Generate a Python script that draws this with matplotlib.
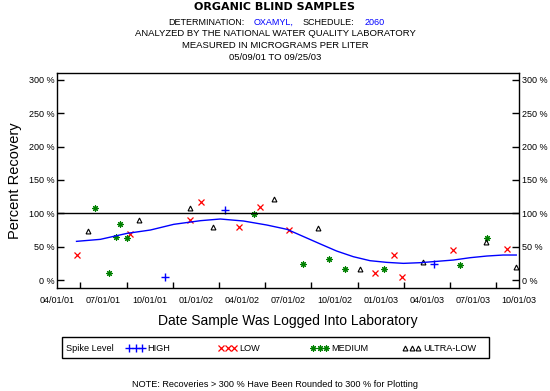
import numpy as np
import matplotlib.pyplot as plt
import matplotlib.dates as mdates
from matplotlib.lines import Line2D
from matplotlib.patches import Rectangle

plt.rcParams['font.family'] = ['Liberation Sans', 'DejaVu Sans']

# recoveries by spike level (date logged, percent recovery)
high_dates = ['2001-10-30', '2002-02-27', '2003-04-16']
high_pct = [5, 104.5, 23.5]

low_dates = ['2001-05-09', '2001-08-22', '2001-12-20', '2002-01-09', '2002-03-27',
             '2002-05-07', '2002-07-02', '2002-12-20', '2003-01-27', '2003-02-11',
             '2003-05-22', '2003-09-07']
low_pct = [37, 68.5, 89.5, 116.5, 80, 109, 74.5, 11, 37, 5, 44.5, 47]

medium_dates = ['2001-06-14', '2001-07-12', '2001-07-26', '2001-08-03', '2001-08-16',
                '2002-04-24', '2002-07-30', '2002-09-19', '2002-10-22', '2003-01-07',
                '2003-06-05', '2003-07-29']
medium_pct = [107.5, 10, 65, 83.5, 63, 99.5, 24.5, 31, 17, 17, 23, 63]

ultra_dates = ['2001-05-31', '2001-09-10', '2001-12-20', '2002-02-02', '2002-06-04',
               '2002-08-29', '2002-11-20', '2003-03-25', '2003-07-27', '2003-09-24']
ultra_pct = [73.5, 90, 108.5, 79, 121.5, 77.5, 17, 27, 57.5, 19]

# smoothed trend line
curve_dates = ['2001-05-09', '2001-06-25', '2001-08-17', '2001-10-02', '2001-11-17',
               '2002-01-09', '2002-02-17', '2002-04-04', '2002-05-20', '2002-06-29',
               '2002-08-01', '2002-09-03', '2002-10-05', '2002-11-07', '2002-12-10',
               '2003-01-12', '2003-02-14', '2003-03-19', '2003-04-21', '2003-05-24',
               '2003-06-26', '2003-07-29', '2003-08-30', '2003-09-25']
curve_pct = [58, 61, 70, 75, 83.5, 89, 91.5, 88.5, 82.5, 76, 65, 54, 43.5, 35, 29,
             26.5, 25, 26, 28, 30, 33.5, 36, 37.5, 37.5]

tick_dates = ['2001-04-01', '2001-07-01', '2001-10-01', '2002-01-01', '2002-04-01',
              '2002-07-01', '2002-10-01', '2003-01-01', '2003-04-01', '2003-07-01',
              '2003-10-01']
tick_labels = ['04/01/01', '07/01/01', '10/01/01', '01/01/02', '04/01/02', '07/01/02',
               '10/01/02', '01/01/03', '04/01/03', '07/01/03', '10/01/03']

levels = ['HIGH', 'LOW', 'MEDIUM', 'ULTRA-LOW']
styles = [
    dict(marker='+', color='#0000ff', markersize=6, markeredgewidth=1.0),
    dict(marker='x', color='#ff0000', markersize=5, markeredgewidth=0.9),
    dict(marker=(8, 2, 0), color='#008000', markersize=4.5, markeredgewidth=0.8),
    dict(marker='^', color='black', markerfacecolor='none', markersize=3.5,
         markeredgewidth=0.8),
]


def to_num(d):
    return mdates.date2num(np.array(d, dtype='datetime64[D]'))


W, H = 550, 391
fig = plt.figure(figsize=(W / 100, H / 100), dpi=100)
ax = fig.add_axes([57.3 / W, 1 - 287.7 / H, 462 / W, 214.4 / H])

series = [(high_dates, high_pct), (low_dates, low_pct),
          (medium_dates, medium_pct), (ultra_dates, ultra_pct)]
for (d, p), st in zip(series, styles):
    ax.plot(to_num(d), p, linestyle='none', **st)

ax.plot(to_num(curve_dates), curve_pct, color='#0000ff', lw=1)
ax.axhline(100, color='black', lw=1)

ax.set_xlim(to_num('2001-04-01'), to_num('2003-10-01'))
ax.set_ylim(-11.5, 310)

ticks = to_num(tick_dates)
ax.set_xticks(ticks)
ax.set_xticklabels(tick_labels)
ax.set_xticks((ticks[:-1] + ticks[1:]) / 2, minor=True)
ax.tick_params(axis='x', which='major', length=0, pad=6, labelsize=6.5)
ax.tick_params(axis='x', which='minor', direction='in', length=4, width=1)

yt = np.arange(0, 301, 50)
ax.set_yticks(yt)
ax.set_yticklabels([f'{v} %' for v in yt])
ax.tick_params(axis='y', direction='in', length=5, width=1, pad=2, labelsize=6.5,
               right=True, labelright=True)
for s in ax.spines.values():
    s.set_linewidth(1)

ax.set_xlabel('Date Sample Was Logged Into Laboratory', fontsize=10)
ax.xaxis.set_label_coords(0.5, (287.7 - 321) / 214.4)
ax.xaxis.label.set_va('center')
ax.set_ylabel('Percent Recovery', fontsize=10.5)
ax.yaxis.set_label_coords((15 - 57.3) / 462, 0.5)
ax.yaxis.label.set_va('center')

# titles
fig.text(0.5, 1 - 7.5 / H, 'ORGANIC BLIND SAMPLES', ha='center', va='center',
         fontsize=8, fontweight='bold', family='DejaVu Sans')
y2 = 1 - 22.7 / H
fs = 6.8
fig.text(168.3 / W, y2, 'DETERMINATION:', va='center', fontsize=6.5)
fig.text(254 / W, y2, 'OXAMYL,', va='center', fontsize=6.5, color='#0000ff')
fig.text(302.7 / W, y2, 'SCHEDULE:', va='center', fontsize=6.5)
fig.text(365 / W, y2, '2060', va='center', fontsize=6.5, color='#0000ff')
fig.text(0.5, 1 - 33.7 / H, 'ANALYZED BY THE NATIONAL WATER QUALITY LABORATORY',
         ha='center', va='center', fontsize=fs)
fig.text(0.5, 1 - 45 / H, 'MEASURED IN MICROGRAMS PER LITER',
         ha='center', va='center', fontsize=fs)
fig.text(0.5, 1 - 57.3 / H, '05/09/01 TO 09/25/03',
         ha='center', va='center', fontsize=fs)

# legend box
fig.add_artist(Rectangle((61.7 / W, 1 - 357.7 / H), (489 - 61.7) / W, 20.4 / H,
                         transform=fig.transFigure, fill=False, lw=1, ec='black'))
ly = 1 - 348.3 / H
fig.text(65.7 / W, ly, 'Spike Level', va='center', fontsize=6.6)
for i, (name, st) in enumerate(zip(levels, styles)):
    x0 = 126 + 92 * i
    xs = np.array([x0 + 3, x0 + 9.5, x0 + 16]) / W
    fig.add_artist(Line2D(xs, [ly] * 3, transform=fig.transFigure,
                          linestyle='none', **st))
    fig.text((x0 + 21.5) / W, ly, name, va='center', fontsize=6.6)

fig.text(0.5, 1 - 384.3 / H,
         'NOTE: Recoveries > 300 % Have Been Rounded to 300 % for Plotting',
         ha='center', va='center', fontsize=6.6)

fig.savefig('out.png', dpi=100)
